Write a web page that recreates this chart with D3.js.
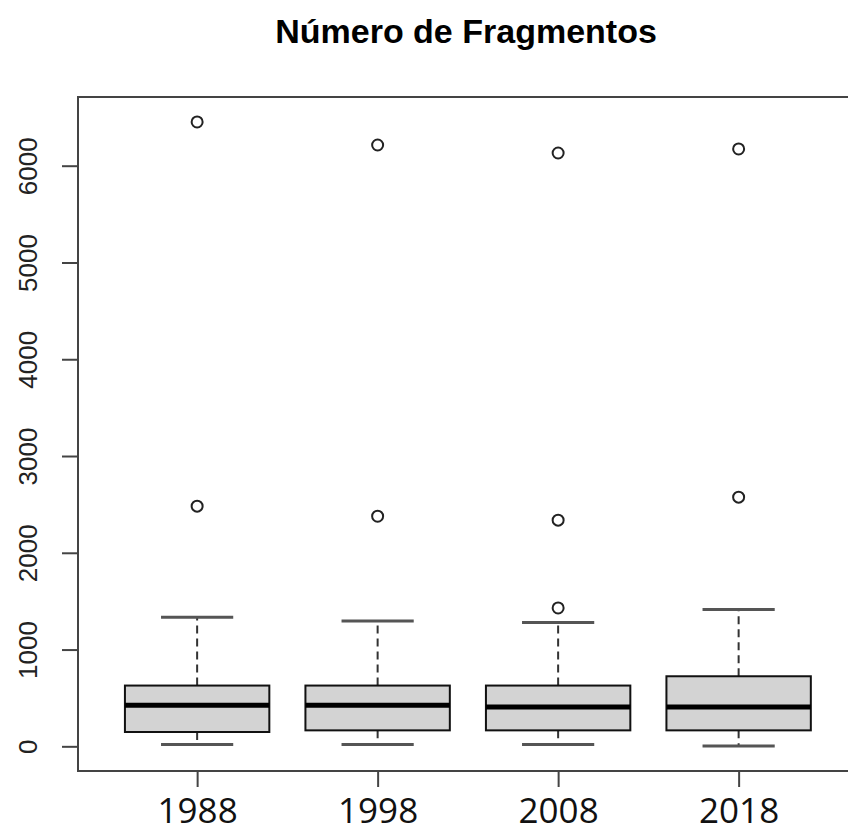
<!DOCTYPE html>
<html>
<head>
<meta charset="utf-8">
<script src="https://cdn.jsdelivr.net/npm/d3@7/dist/d3.min.js"></script>
<style>
  html, body { margin: 0; padding: 0; background: #fff; }
  svg { display: block; }
</style>
</head>
<body>
<script>
// ---- Data ----
const categories = ["1988", "1998", "2008", "2018"];
const lowerWhisker = [20, 20, 20, 3];
const q1 = [148, 165, 165, 165];
const median = [424, 424, 406, 406];
const q3 = [628, 628, 628, 724];
const upperWhisker = [1334, 1296, 1279, 1413];
const outliers = [[2482, 6452], [2378, 6214], [1430, 2337, 6131], [2575, 6173]];
const yTicks = [0, 1000, 2000, 3000, 4000, 5000, 6000];
const title = "Número de Fragmentos";

// ---- Layout ----
const W = 848, H = 834;
const plotLeft = 78, plotTop = 97, plotBottom = 771;
const unit = 180.5;

const svg = d3.select("body").append("svg").attr("width", W).attr("height", H);

// R-style extended ranges
const allVals = lowerWhisker.concat(upperWhisker, outliers.flat());
const dMin = d3.min(allVals), dMax = d3.max(allVals);
const ext = 0.04 * (dMax - dMin);
const y = d3.scaleLinear().domain([dMin - ext, dMax + ext]).range([plotBottom, plotTop]);
const x = d3.scaleLinear().domain([0.5 - 0.16, categories.length + 0.5 + 0.16])
  .range([plotLeft, plotLeft + unit * (categories.length + 0.32)]);

const boxW = x(1.4) - x(1);   // half box width (0.4 units)
const capW = x(1.2) - x(1);   // half staple width

const data = categories.map((c, i) => ({
  c, i: i + 1, lo: lowerWhisker[i], q1: q1[i], med: median[i], q3: q3[i], hi: upperWhisker[i], out: outliers[i]
}));

const g = svg.append("g");

data.forEach(d => {
  const cx = x(d.i);
  // dashed whiskers
  g.append("line").attr("x1", cx).attr("x2", cx).attr("y1", y(d.q3)).attr("y2", y(d.hi))
    .attr("stroke", "#333").attr("stroke-width", 2).attr("stroke-dasharray", "8,5");
  g.append("line").attr("x1", cx).attr("x2", cx).attr("y1", y(d.q1)).attr("y2", y(d.lo))
    .attr("stroke", "#333").attr("stroke-width", 2).attr("stroke-dasharray", "8,5");
  // staples
  g.append("line").attr("x1", cx - capW).attr("x2", cx + capW).attr("y1", y(d.hi)).attr("y2", y(d.hi))
    .attr("stroke", "#555").attr("stroke-width", 3);
  g.append("line").attr("x1", cx - capW).attr("x2", cx + capW).attr("y1", y(d.lo)).attr("y2", y(d.lo))
    .attr("stroke", "#555").attr("stroke-width", 3);
  // box
  g.append("rect").attr("x", cx - boxW).attr("width", 2 * boxW)
    .attr("y", y(d.q3)).attr("height", y(d.q1) - y(d.q3))
    .attr("fill", "#d3d3d3").attr("stroke", "#111").attr("stroke-width", 2);
  // median
  g.append("line").attr("x1", cx - boxW).attr("x2", cx + boxW).attr("y1", y(d.med)).attr("y2", y(d.med))
    .attr("stroke", "#000").attr("stroke-width", 5);
  // outliers
  d.out.forEach(v => {
    g.append("circle").attr("cx", cx).attr("cy", y(v)).attr("r", 5.5)
      .attr("fill", "none").attr("stroke", "#222").attr("stroke-width", 2);
  });
});

// frame
svg.append("rect").attr("x", x.range()[0]).attr("y", plotTop)
  .attr("width", x.range()[1] - x.range()[0]).attr("height", plotBottom - plotTop)
  .attr("fill", "none").attr("stroke", "#444").attr("stroke-width", 2);

// y axis
const yAxis = d3.axisLeft(y).tickValues(yTicks).tickSize(16).tickPadding(0).tickFormat(d3.format("d"));
const ya = svg.append("g").attr("transform", `translate(${plotLeft},0)`).call(yAxis);
ya.select(".domain").attr("d", `M0,${y(yTicks[0])}V${y(yTicks[yTicks.length - 1])}`)
  .attr("stroke", "#444").attr("stroke-width", 2);
ya.selectAll(".tick line").attr("stroke", "#444").attr("stroke-width", 2);
ya.selectAll(".tick text")
  .attr("x", 0).attr("y", 0).attr("dy", 0)
  .attr("transform", "translate(-41,0) rotate(-90)")
  .attr("text-anchor", "middle")
  .attr("font-family", "'Liberation Sans', Arial, sans-serif")
  .attr("font-size", 26).attr("fill", "#222");

// x axis
const xAxis = d3.axisBottom(x).tickValues(data.map(d => d.i)).tickSize(16).tickPadding(0)
  .tickFormat(v => categories[v - 1]);
const xa = svg.append("g").attr("transform", `translate(0,${plotBottom})`).call(xAxis);
xa.select(".domain").attr("d", `M${x(1)},0H${x(categories.length)}`).attr("stroke", "#444").attr("stroke-width", 2);
xa.selectAll(".tick line").attr("stroke", "#444").attr("stroke-width", 2);
xa.selectAll(".tick text")
  .attr("y", 52).attr("dy", 0)
  .attr("font-family", "'Open Sans', sans-serif")
  .attr("font-size", 35).attr("fill", "#111");

// title
svg.append("text").attr("x", 466).attr("y", 43).attr("text-anchor", "middle")
  .attr("font-family", "'Liberation Sans', Arial, sans-serif").attr("font-weight", "bold")
  .attr("font-size", 34).attr("fill", "#000").text(title);
</script>
</body>
</html>
